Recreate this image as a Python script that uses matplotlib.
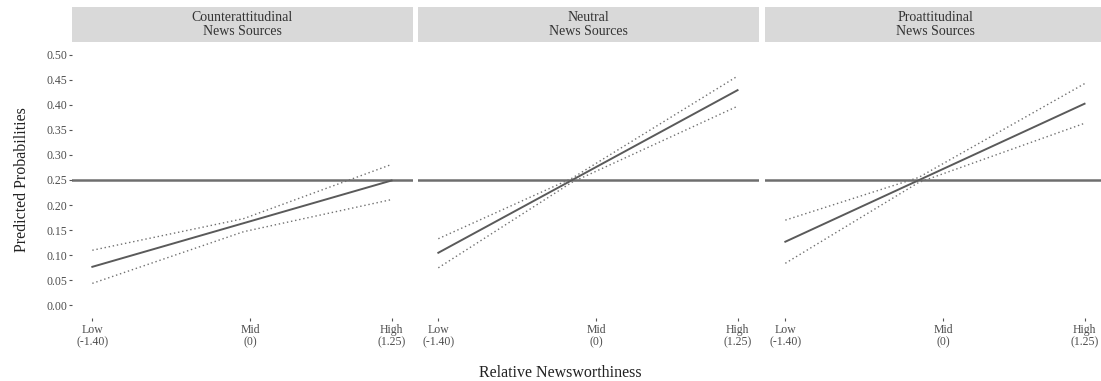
import matplotlib.pyplot as plt

plt.rcParams['font.family'] = ['Liberation Serif', 'DejaVu Serif']

panels = ["Counterattitudinal\nNews Sources", "Neutral\nNews Sources", "Proattitudinal\nNews Sources"]
tick_pos = [-1.40, 0, 1.25]
tick_labels = ["Low\n(-1.40)", "Mid\n(0)", "High\n(1.25)"]

# predicted probability (solid line)
mean_x = [-1.40, 1.25]
mean_vals = [[0.077, 0.249], [0.105, 0.429], [0.127, 0.402]]

# confidence bounds (dotted): ends and narrowest point
band_x = [[-1.40, -0.06, 1.25],
          [-1.40, -0.22, 1.25],
          [-1.40, -0.22, 1.25]]
upper_vals = [[0.110, 0.173, 0.281],
              [0.133, 0.253, 0.457],
              [0.170, 0.255, 0.442]]
lower_vals = [[0.044, 0.147, 0.211],
              [0.075, 0.245, 0.397],
              [0.084, 0.245, 0.363]]
ref_line = 0.25

W, H = 1101, 381
fig = plt.figure(figsize=(W / 100, H / 100), dpi=100)

lefts = [72, 418, 765]
width = 341
top, bottom = 42, 318
strip_top = 7
text_col = "#4d4d4d"

for i, name in enumerate(panels):
    ax = fig.add_axes([lefts[i] / W, 1 - bottom / H, width / W, (bottom - top) / H])
    ax.axhline(ref_line, color="#6e6e6e", lw=1.8, zorder=1)
    ax.plot(mean_x, mean_vals[i], color="#5a5a5a", lw=1.4, zorder=3)
    ax.plot(band_x[i], upper_vals[i], color="#707070", lw=1.0, ls=(0, (1, 2)), zorder=2)
    ax.plot(band_x[i], lower_vals[i], color="#707070", lw=1.0, ls=(0, (1, 2)), zorder=2)
    ax.set_xlim(-1.58, 1.44)
    ax.set_ylim(-0.025, 0.525)
    for s in ax.spines.values():
        s.set_visible(False)
    ax.set_xticks(tick_pos)
    ax.set_xticklabels(tick_labels, fontsize=8.5, color=text_col, linespacing=1.05)
    ax.tick_params(axis='x', length=2.5, width=0.8, color="#555555", pad=2)
    if i == 0:
        ax.set_yticks([0.0, 0.05, 0.10, 0.15, 0.20, 0.25, 0.30, 0.35, 0.40, 0.45, 0.50])
        ax.set_yticklabels([f"{v:.2f}" for v in ax.get_yticks()], fontsize=8.5, color=text_col)
        ax.tick_params(axis='y', length=2.5, width=0.8, color="#555555", pad=1)
        ax.set_ylabel("Predicted Probabilities", fontsize=11.5, color="#222222", labelpad=12)
    else:
        ax.set_yticks([])

    sax = fig.add_axes([lefts[i] / W, 1 - top / H, width / W, (top - strip_top) / H])
    sax.set_facecolor("#d9d9d9")
    sax.set_xticks([])
    sax.set_yticks([])
    for s in sax.spines.values():
        s.set_visible(False)
    sax.text(0.5, 0.5, name, ha="center", va="center", fontsize=10, color="#333333",
             linespacing=1.15, transform=sax.transAxes)

fig.text(560 / W, 1 - 373 / H, "Relative Newsworthiness", ha="center", va="center",
         fontsize=11.5, color="#222222")

fig.savefig("out.png", dpi=100, facecolor="white")
